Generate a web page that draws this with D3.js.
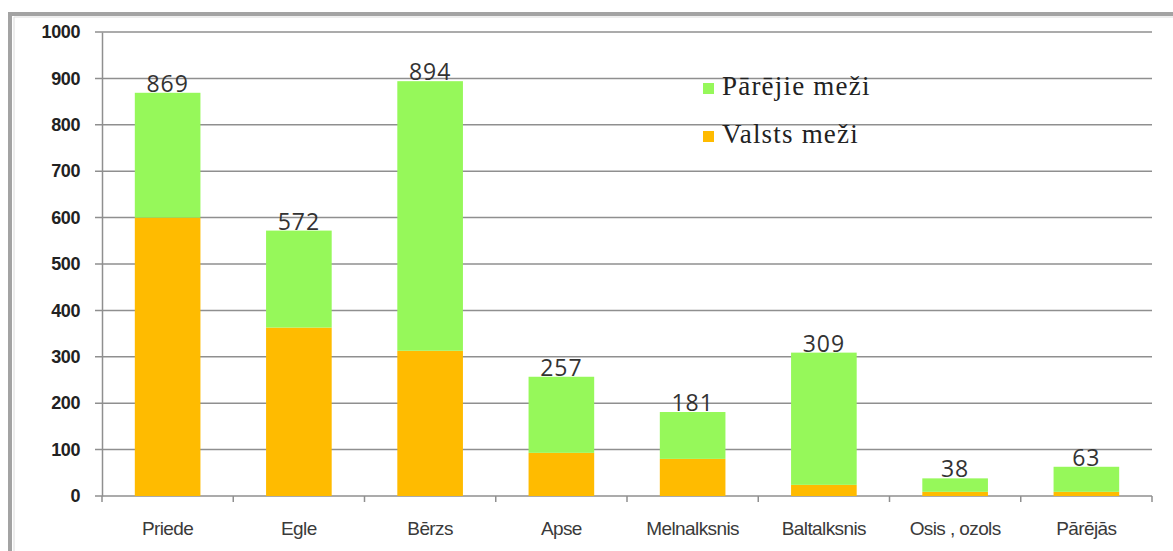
<!DOCTYPE html>
<html>
<head>
<meta charset="utf-8">
<script src="https://cdn.jsdelivr.net/npm/d3@7"></script>
<style>
    body { margin: 0; background: #fff; }
    svg { display: block; }
</style>
</head>
<body>
<div id="chart"></div>
<script>
// koku sugas un krāja (tūkst. m3)
var categories = ["Priede", "Egle", "Bērzs", "Apse", "Melnalksnis", "Baltalksnis", "Osis , ozols", "Pārējās"];
var valsts = [600, 363, 313, 93, 80, 24, 9, 9];
var parejie = [269, 209, 581, 164, 101, 285, 29, 54];
var yTicks = [0, 100, 200, 300, 400, 500, 600, 700, 800, 900, 1000];
var seriesNames = ["Valsts meži", "Pārējie meži"];
var colors = ["#ffbb00", "#96f85a"];

function init() {
    var w = 1173;
    var h = 551;
    var left = 102, right = 1152, top = 32, bottom = 496;

    var svg = d3.select("#chart")
        .append("svg")
        .attr("width", w)
        .attr("height", h);

    // frame
    svg.append("path")
        .attr("d", "M10,551 V14 H1173")
        .attr("fill", "none")
        .attr("stroke", "#a3a3a3")
        .attr("stroke-width", 4);
    svg.append("path")
        .attr("d", "M14,551 V17 H1173")
        .attr("fill", "none")
        .attr("stroke", "#dcdcdc")
        .attr("stroke-width", 1);

    var rows = categories.map(function(c, i) {
        return { cat: c, valsts: valsts[i], parejie: parejie[i] };
    });

    var x = d3.scaleBand()
        .domain(categories)
        .range([left, right])
        .paddingInner(0.5)
        .paddingOuter(0.25);

    var y = d3.scaleLinear()
        .domain([0, 1000])
        .range([bottom, top]);

    // gridlines
    svg.selectAll("line.grid")
        .data(yTicks)
        .enter()
        .append("line")
        .attr("class", "grid")
        .attr("x1", left - 7)
        .attr("x2", right)
        .attr("y1", function(d) { return y(d); })
        .attr("y2", function(d) { return y(d); })
        .attr("stroke", "#8f8f8f")
        .attr("stroke-width", 1.5);

    var yAxis = svg.append("g")
        .attr("transform", "translate(" + left + ",0)")
        .call(d3.axisLeft(y).tickValues(yTicks).tickFormat(d3.format("d")).tickSize(0).tickPadding(22));
    yAxis.select(".domain").attr("stroke", "#8f8f8f").attr("stroke-width", 1.5);
    yAxis.selectAll("text")
        .attr("font-family", "Liberation Sans, Arial, sans-serif")
        .attr("font-size", 18)
        .attr("font-weight", "bold")
        .attr("letter-spacing", -0.4)
        .attr("fill", "#222");

    // category boundary ticks
    var bounds = categories.map(function(c) { return x(c) - x.step() * 0.25; });
    bounds.push(right);
    svg.selectAll("line.xtick")
        .data(bounds)
        .enter()
        .append("line")
        .attr("class", "xtick")
        .attr("x1", function(d) { return d; })
        .attr("x2", function(d) { return d; })
        .attr("y1", bottom)
        .attr("y2", bottom + 6)
        .attr("stroke", "#8f8f8f")
        .attr("stroke-width", 1.5);

    var stack = d3.stack().keys(["valsts", "parejie"]);
    var layers = stack(rows);

    svg.selectAll("g.layer")
        .data(layers)
        .enter()
        .append("g")
        .attr("class", "layer")
        .attr("fill", function(d, i) { return colors[i]; })
        .selectAll("rect")
        .data(function(d) { return d; })
        .enter()
        .append("rect")
        .attr("x", function(d) { return x(d.data.cat); })
        .attr("y", function(d) { return y(d[1]); })
        .attr("width", x.bandwidth())
        .attr("height", function(d) { return y(d[0]) - y(d[1]); });

    // total labels
    svg.selectAll("text.total")
        .data(rows)
        .enter()
        .append("text")
        .attr("class", "total")
        .text(function(d) { return d.valsts + d.parejie; })
        .attr("x", function(d) { return x(d.cat) + x.bandwidth() / 2; })
        .attr("y", function(d) { return y(d.valsts + d.parejie) - 1; })
        .attr("text-anchor", "middle")
        .attr("font-family", "Open Sans, sans-serif")
        .attr("font-size", 23)
        .attr("letter-spacing", 1)
        .attr("fill", "#333");

    // category labels
    svg.selectAll("text.cat")
        .data(categories)
        .enter()
        .append("text")
        .attr("class", "cat")
        .text(function(d) { return d; })
        .attr("x", function(d) { return x(d) + x.bandwidth() / 2; })
        .attr("y", 535)
        .attr("text-anchor", "middle")
        .attr("font-family", "Liberation Sans, Arial, sans-serif")
        .attr("font-size", 19)
        .attr("letter-spacing", -0.6)
        .attr("fill", "#3a3a3a");

    // legend
    var legendItems = [
        { name: seriesNames[1], color: colors[1], ty: 95 },
        { name: seriesNames[0], color: colors[0], ty: 143 }
    ];
    var lg = svg.selectAll("g.legend")
        .data(legendItems)
        .enter()
        .append("g")
        .attr("class", "legend");
    lg.append("rect")
        .attr("x", 703)
        .attr("y", function(d) { return d.ty - 12; })
        .attr("width", 11)
        .attr("height", 11)
        .attr("fill", function(d) { return d.color; });
    lg.append("text")
        .text(function(d) { return d.name; })
        .attr("x", 722)
        .attr("y", function(d) { return d.ty; })
        .attr("font-family", "Liberation Serif, Times New Roman, serif")
        .attr("font-size", 27)
        .attr("letter-spacing", 1.2)
        .attr("fill", "#222");
}

window.onload = init;
</script>
</body>
</html>
